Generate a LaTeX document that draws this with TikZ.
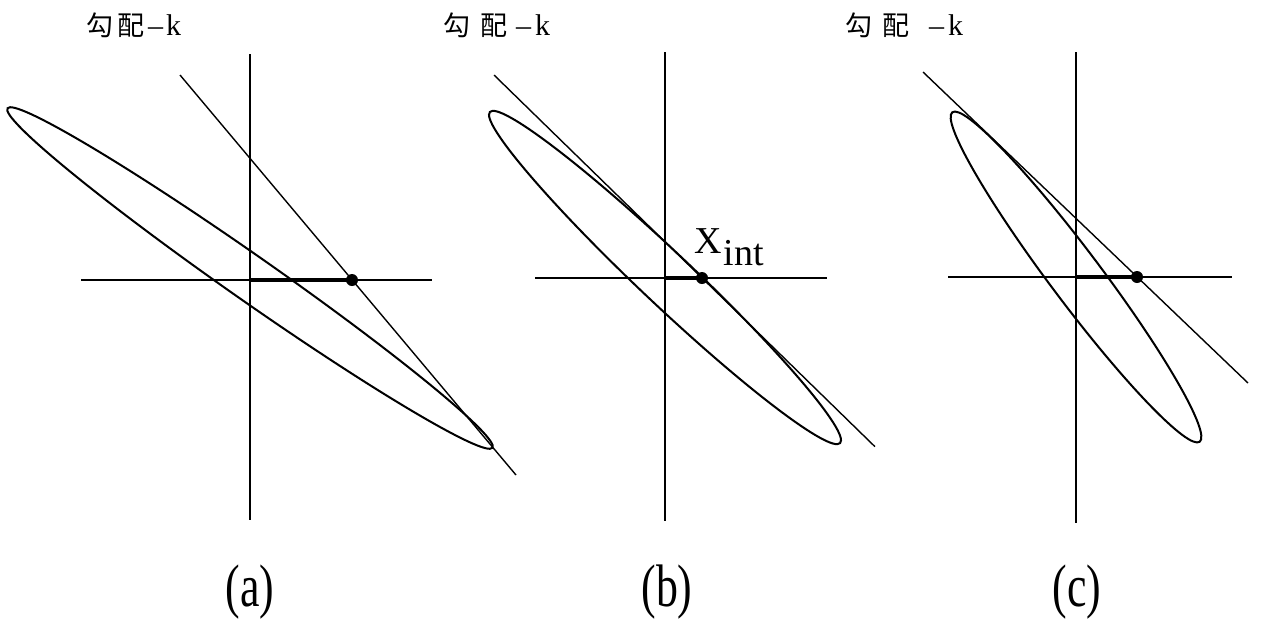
\documentclass[tikz,border=0pt]{standalone}
\usepackage{fontspec}
\setmainfont{Liberation Serif}
\newfontfamily\cjk{Noto Sans CJK JP}
\usepackage{graphicx}
\begin{document}
\begin{tikzpicture}[x=1pt,y=-1pt,
  axis/.style={line width=1.5pt},
  ell/.style={line width=2pt},
  tline/.style={line width=1.4pt},
  seg/.style={line width=4pt},
  dotn/.style={circle,fill,inner sep=0pt,minimum size=12pt},
  klabel/.style={inner sep=0pt,anchor=base west,font=\fontsize{30}{30}\selectfont},
  plabel/.style={inner sep=0pt,anchor=base,font=\fontsize{60}{60}\selectfont}]
\useasboundingbox (0,0) rectangle (1264,625);
\newcommand{\kz}[1]{{\cjk\fontsize{27}{27}\selectfont #1}}
% ---------- panel (a)
\coordinate (a-vt) at (250,54); \coordinate (a-vb) at (250,520);
\coordinate (a-hl) at (81,280); \coordinate (a-hr) at (432,280);
\coordinate (a-o) at (250,280);
\node[dotn] (a-dot) at (352,280) {};
\coordinate (a-lt) at (180,75); \coordinate (a-lb) at (516,475);
\draw[axis] (a-vt) -- (a-vb);
\draw[axis] (a-hl) -- (a-hr);
\draw[ell, rotate around={-35:(250,278)}] (250,278) ellipse [x radius=296pt, y radius=22.5pt];
\draw[tline] (a-lt) -- (a-lb);
\draw[seg] (a-o) -- (a-dot.center);
\node[klabel] (a-k) at (86,35) {\kz{勾}\hspace{4pt}\kz{配}\hspace{4pt}–\hspace{3pt}k};
\node[plabel] (a-lab) at (250,606) {\scalebox{0.73}[1]{(a)}};
% ---------- panel (b)
\coordinate (b-vt) at (665,52); \coordinate (b-vb) at (665,521);
\coordinate (b-hl) at (535,278); \coordinate (b-hr) at (827,278);
\coordinate (b-o) at (665,278);
\node[dotn] (b-dot) at (702,278) {};
\coordinate (b-lt) at (494,75); \coordinate (b-lb) at (875,446.7);
\draw[axis] (b-vt) -- (b-vb);
\draw[axis] (b-hl) -- (b-hr);
\draw[ell, rotate around={-43.4:(665,277.5)}] (665,277.5) ellipse [x radius=241pt, y radius=26pt];
\draw[tline] (b-lt) -- (b-lb);
\draw[seg] (b-o) -- (b-dot.center);
\node[klabel] (b-k) at (443,35) {\kz{勾}\hspace{10pt}\kz{配}\hspace{9pt}–\hspace{4pt}k};
\node[inner sep=0pt,anchor=base west,font=\fontsize{38}{38}\selectfont] (xint) at (694,253) {X\raisebox{-12pt}{\hspace{2pt}int}};
\node[plabel] (b-lab) at (667,606) {\scalebox{0.73}[1]{(b)}};
% ---------- panel (c)
\coordinate (c-vt) at (1076,52); \coordinate (c-vb) at (1076,523);
\coordinate (c-hl) at (948,277); \coordinate (c-hr) at (1232,277);
\coordinate (c-o) at (1076,277);
\node[dotn] (c-dot) at (1137,277) {};
\coordinate (c-lt) at (923,72); \coordinate (c-lb) at (1248,383);
\draw[axis] (c-vt) -- (c-vb);
\draw[axis] (c-hl) -- (c-hr);
\draw[ell, rotate around={-53.1:(1076,277)}] (1076,277) ellipse [x radius=206pt, y radius=25.5pt];
\draw[tline] (c-lt) -- (c-lb);
\draw[seg] (c-o) -- (c-dot.center);
\node[klabel] (c-k) at (845,35) {\kz{勾}\hspace{10pt}\kz{配}\hspace{20pt}–\hspace{4pt}k};
\node[plabel] (c-lab) at (1077,606) {\scalebox{0.73}[1]{(c)}};
\end{tikzpicture}
\end{document}
